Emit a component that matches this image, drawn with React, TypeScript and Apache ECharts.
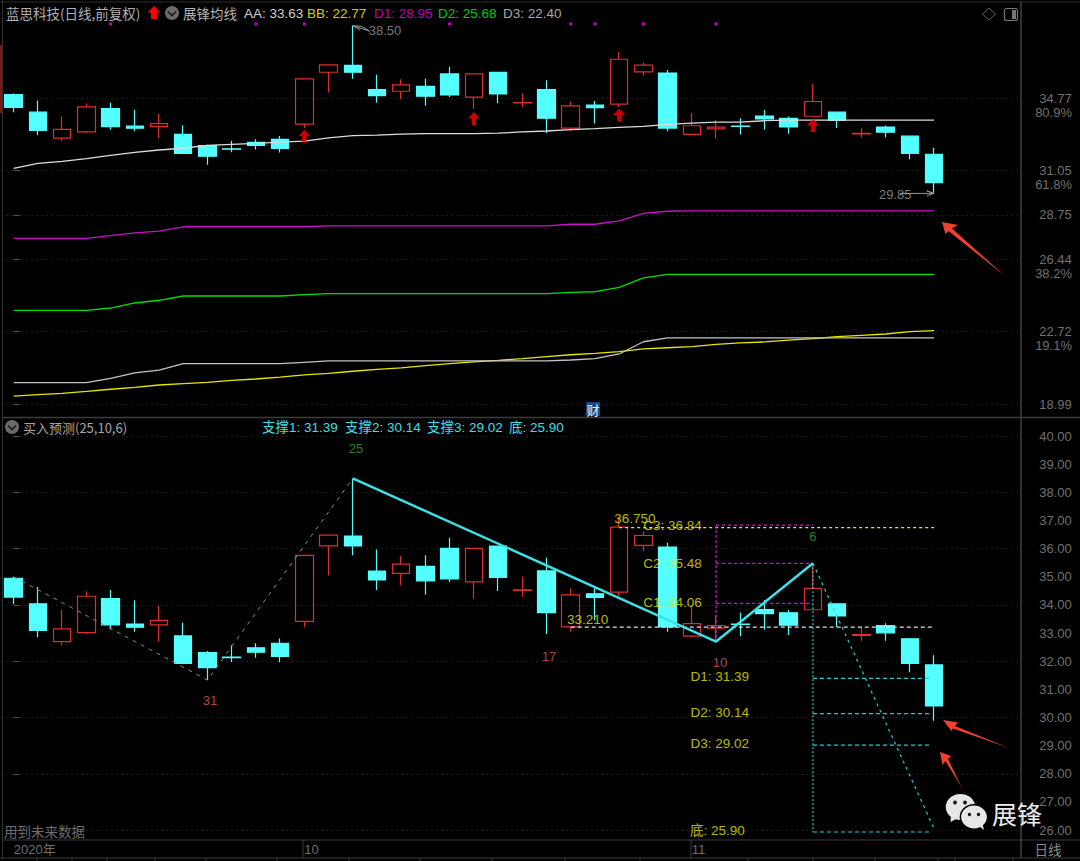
import React, { useEffect, useRef } from "react";
import * as echarts from "echarts";

// ---- axis categories (one per trading slot; three blank slots on the right)
const categories = [
  "2020年","","","","","","","","","","","",
  "10","","","","","","","","","","","","","","","",
  "11","","","","","","","","","","","","","",
];

// ---- candles
const opens = [34.95,34.04,32.70,33.02,34.23,33.32,33.29,32.90,32.31,32.15,32.48,32.64,33.42,36.10,36.45,35.20,35.12,35.37,36.01,34.82,36.09,34.52,35.21,33.22,34.40,34.46,36.12,36.06,32.89,33.18,33.32,33.84,33.72,33.83,34.04,32.92,33.27,32.80,31.87];
const closes = [34.28,33.10,33.15,34.31,33.29,33.21,33.45,31.92,31.77,32.13,32.32,32.17,35.76,36.48,36.10,34.89,35.45,34.86,34.93,36.01,34.98,34.54,33.73,34.36,34.27,36.77,36.47,33.22,33.34,33.27,33.31,33.69,33.28,34.59,33.61,32.95,33.01,31.92,30.41];
const lows = [34.03,32.85,32.57,32.96,33.13,33.05,32.69,31.92,31.33,31.97,32.12,31.96,33.21,35.06,35.77,34.53,34.70,34.37,34.82,34.22,34.50,34.29,32.97,33.05,33.46,34.31,35.92,33.05,32.85,32.69,32.89,33.13,32.93,33.83,33.22,32.73,32.73,31.61,29.88];
const highs = [35.00,34.64,33.82,34.49,34.53,34.17,33.96,33.37,32.36,32.57,32.64,32.81,35.76,36.48,38.50,35.97,35.74,35.77,36.38,36.01,36.09,35.01,35.69,34.59,34.62,37.14,36.60,36.21,34.00,33.64,33.73,34.17,33.82,35.48,34.04,33.24,33.35,32.80,32.21];

// ---- 展锋均线 indicator lines
const aaLine = [31.14,31.40,31.50,31.64,31.81,31.97,32.09,32.18,32.33,32.38,32.43,32.50,32.55,32.71,32.83,32.86,32.91,32.93,32.93,32.93,32.96,33.02,33.07,33.14,33.19,33.26,33.31,33.41,33.48,33.53,33.53,33.60,33.63,33.63,33.63,33.63,33.63,33.63,33.63];
const bbLine = [19.40,19.47,19.54,19.64,19.75,19.85,19.97,20.04,20.11,20.21,20.28,20.38,20.49,20.57,20.68,20.78,20.85,20.97,21.07,21.16,21.24,21.33,21.43,21.53,21.60,21.69,21.83,21.89,21.95,22.07,22.14,22.19,22.28,22.36,22.46,22.53,22.60,22.72,22.77];
const d1Line = [27.53,27.53,27.53,27.53,27.67,27.82,27.91,28.13,28.13,28.13,28.13,28.13,28.13,28.18,28.18,28.18,28.18,28.18,28.18,28.18,28.18,28.18,28.18,28.26,28.26,28.43,28.82,28.93,28.95,28.95,28.95,28.95,28.95,28.95,28.95,28.95,28.95,28.95,28.95];
const d2Line = [23.82,23.82,23.82,23.82,23.94,24.20,24.34,24.56,24.56,24.56,24.56,24.56,24.63,24.68,24.68,24.68,24.68,24.68,24.68,24.68,24.68,24.68,24.68,24.75,24.78,25.00,25.50,25.68,25.68,25.68,25.68,25.68,25.68,25.68,25.68,25.68,25.68,25.68,25.68];
const d3Line = [20.09,20.09,20.09,20.09,20.31,20.60,20.74,21.07,21.07,21.07,21.07,21.07,21.14,21.21,21.21,21.21,21.21,21.21,21.21,21.21,21.21,21.21,21.21,21.26,21.33,21.57,22.20,22.40,22.40,22.40,22.40,22.40,22.40,22.40,22.40,22.40,22.40,22.40,22.40];

// ---- signal marks on the upper panel: [slot, price]
const upArrows = [[12,32.80],[19,33.71],[25,33.89],[33,33.35]];
const dotSlots = [4,10,12,18,23,24,26,29];
const dotPrice = 38.59;
const upperNotes = [["38.50",15.33,38.23],["29.85",36.4,29.77]];
const highPointer = [[14,38.50],[14.7,38.22],[14.35,38.47],[14,38.50],[14.3,38.28]];
const lowPointer = [[36.6,29.85],[38,29.85],[37.7,29.98],[38,29.85],[37.7,29.72]];

// ---- 买入预测 overlay geometry: [slot, price]
const grayZig = [[0,35.00],[8,31.33],[14,38.50]];
const cyanZig = [[14,38.50],[29,32.70],[33,35.48]];
const dropLine = [[33,35.48],[38,26.05]];
const dropStem = [[33,35.48],[33,25.93]];
const supports = [31.39,30.14,29.02,25.93];
const supportEnd = 37.8;
const whiteLevel = [[23,33.21],[38,33.21]];
const yellowLevel = [[25,36.75],[38,36.75]];
const purpleStem = [[29,36.84],[29,32.70]];
const purpleLevels = [36.84,35.48,34.06];

const yellowNotes = [["36.750",25.65,37.06],["C3: 36.84",27.2,36.84],["C2: 35.48",27.2,35.49],["C1: 34.06",27.2,34.10],["33.210",23.7,33.50],["D1: 31.39",29.15,31.44],["D2: 30.14",29.15,30.16],["D3: 29.02",29.15,29.09],["底: 25.90",29.05,25.97]];
const greenNotes = [["25",14.13,39.55],["6",33,36.45]];
const redNotes = [["31",8.1,30.60],["17",22.1,32.18],["10",29.16,31.94]];

// ---- axis ticks
const upperTicks = [34.77,31.05,28.75,26.44,22.72,18.99];
const upperPercents = [["80.9%",112],["61.8%",184],["38.2%",273],["19.1%",345]];
const lowerLabels = [40,39,38,37,36,35,34,33,32,31,30,29,28,27,26];
const lowerTicks = [40,38,36,34,32,30,28,26];
const stripTicks = [37,72,107,155,206,277,349,420,492,565,640,748,813,875,938,955,1013];

const BG = "#000000";
const CYAN = "#54ffff";
const RED = "#dc2e2e";
const LINE = "#3a3a3a";
const NUM_FONT = '"Liberation Sans", Arial, sans-serif';
const CJK_FONT = '"Noto Sans CJK SC", "Noto Sans", sans-serif';
const MIX_FONT = '"Liberation Sans", Arial, "Noto Sans CJK SC", sans-serif';
const SLOT_MIN = -0.5;
const SLOT_MAX = categories.length - 0.5;

function txt(text: string, x: number, y: number, fill: string, size = 13.5, align = "left", font = NUM_FONT) {
  return {
    type: "text", x, y, silent: true, z: 20,
    style: { text, fill, font: `${size}px ${font}`, align, verticalAlign: "middle", textAlign: align, textVerticalAlign: "middle" },
  };
}
function seg(x1: number, y1: number, x2: number, y2: number, stroke = LINE, lineWidth = 1) {
  return { type: "line", silent: true, z: 5, shape: { x1, y1, x2, y2 }, style: { stroke, lineWidth } };
}
function poly(points: number[][], fill: string) {
  return { type: "polygon", silent: true, z: 30, shape: { points }, style: { fill } };
}
function chevronCircle(cx: number, cy: number) {
  return [
    { type: "circle", silent: true, z: 20, shape: { cx, cy, r: 7 }, style: { fill: "#6a6a6a" } },
    { type: "polyline", silent: true, z: 21, shape: { points: [[cx - 4, cy - 1.5], [cx, cy + 2.5], [cx + 4, cy - 1.5]] }, style: { stroke: "#1a1a1a", fill: "none", lineWidth: 1.6 } },
  ];
}

function lineOn(panel: number, data: any[], color: string, width: number, type: any = "solid", name = "", z = 4) {
  return {
    type: "line", name, xAxisIndex: panel === 0 ? 1 : 3, yAxisIndex: panel,
    data, symbol: "none", silent: true, z, animation: false,
    lineStyle: { color, width, type },
  };
}
function notes(panel: number, items: any[], color: string, font = NUM_FONT, size = 13) {
  return {
    type: "scatter", xAxisIndex: panel === 0 ? 1 : 3, yAxisIndex: panel,
    data: items.map((n) => ({ value: [n[1], n[2]], text: n[0] })),
    symbolSize: 0, silent: true, z: 8, clip: false,
    label: {
      show: true, position: "inside", color, fontSize: size, fontFamily: font,
      formatter: (p: any) => p.data.text,
    },
  };
}
function candles(panel: number) {
  return {
    type: "candlestick", xAxisIndex: panel === 0 ? 0 : 2, yAxisIndex: panel,
    data: opens.map((o, i) => [o, closes[i], lows[i], highs[i]]),
    barWidth: 18, silent: true, z: 3,
    itemStyle: { color: "rgba(0,0,0,0)", color0: CYAN, borderColor: RED, borderColor0: CYAN, borderColorDoji: CYAN, borderWidth: 1.2 },
  };
}

function buildOption() {
  const indexed = (arr: number[]) => arr.map((v, i) => [i, v]);
  const hline = (v: number, a: number, b: number) => [[a, v], [b, v]];
  const series: any[] = [
    candles(0),
    lineOn(0, indexed(aaLine), "#dcdcdc", 1.3, "solid", "AA"),
    lineOn(0, indexed(bbLine), "#e6e600", 1.3, "solid", "BB"),
    lineOn(0, indexed(d1Line), "#cc10cc", 1.3, "solid", "D1"),
    lineOn(0, indexed(d2Line), "#00e000", 1.3, "solid", "D2"),
    lineOn(0, indexed(d3Line), "#c4c4c4", 1.3, "solid", "D3"),
    lineOn(0, highPointer, "#9a9a9a", 1),
    lineOn(0, lowPointer, "#9a9a9a", 1),
    {
      type: "scatter", xAxisIndex: 1, yAxisIndex: 0, data: upArrows, silent: true, z: 6,
      symbol: "path://M6 0L12 6.5H8.2V13H3.8V6.5H0Z", symbolSize: [12, 13],
      itemStyle: { color: "#ff0000" },
    },
    {
      type: "scatter", xAxisIndex: 1, yAxisIndex: 0, data: dotSlots.map((s) => [s, dotPrice]), silent: true, z: 6,
      symbol: "rect", symbolSize: 3, itemStyle: { color: "#ff00ff" },
    },
    notes(0, upperNotes, "#9c9c9c"),

    candles(1),
    lineOn(1, grayZig, "#8a8a8a", 1, [4, 5]),
    lineOn(1, cyanZig, "#3fdfe6", 2.5, "solid", "", 6),
    lineOn(1, dropLine, "#22cfcf", 1.2, [3, 4]),
    lineOn(1, dropStem, "#22cfcf", 1.2, [2, 2]),
    lineOn(1, whiteLevel, "#e0e0e0", 1.2, [4, 3]),
    lineOn(1, yellowLevel, "#e6e640", 1.2, [3, 3]),
    lineOn(1, purpleStem, "#c818c8", 1.2, [3, 2]),
    ...purpleLevels.map((v) => lineOn(1, hline(v, 29, 33), "#c818c8", 1.2, [3, 3])),
    ...supports.map((v) => lineOn(1, hline(v, 33, supportEnd), "#22cfcf", 1.2, [4, 3])),
    notes(1, yellowNotes, "#e8e800", MIX_FONT, 13.5),
    notes(1, greenNotes, "#2fa52f"),
    notes(1, redNotes, "#d85a5a"),
  ];

  const graphic: any[] = [
    // frame
    seg(2.5, 0, 2.5, 858, "#303030", 1),
    seg(0, 2, 1080, 2, "#2c2c2c", 1),
    seg(2, 417.5, 1080, 417.5, "#3c3c3c", 1.5),
    seg(2, 840, 1080, 840, "#3c3c3c", 1),
    seg(0, 858, 1080, 858, "#3c3c3c", 1),
    seg(1021, 2, 1021, 858, "#404040", 1.5),
    seg(303, 840, 303, 858, "#3c3c3c", 1),
    seg(691, 840, 691, 858, "#3c3c3c", 1),
    ...stripTicks.map((x) => seg(x, 858, x, 861, "#3c3c3c", 1)),
    { type: "rect", silent: true, z: 6, shape: { x: 0, y: 45, width: 2, height: 68 }, style: { fill: "#7d1717" } },

    // upper header
    txt("蓝思科技(日线,前复权)", 6, 13, "#b0b0b0", 13.5, "left", CJK_FONT),
    poly([[154, 6], [160.5, 12.5], [157, 12.5], [157, 19], [151, 19], [151, 12.5], [147.5, 12.5]], "#ff0000"),
    ...chevronCircle(172, 13),
    txt("展锋均线", 183, 13, "#b0b0b0", 13.5, "left", CJK_FONT),
    txt("AA: 33.63", 244, 13, "#cfcfcf"),
    txt("BB: 22.77", 307, 13, "#d0d000"),
    txt("D1: 28.95", 374, 13, "#c000c0"),
    txt("D2: 25.68", 438, 13, "#00cc00"),
    txt("D3: 22.40", 503, 13, "#a8a8a8"),
    { type: "polygon", silent: true, z: 20, shape: { points: [[989, 8], [995.5, 14], [989, 20], [982.5, 14]] }, style: { stroke: "#666", fill: "none", lineWidth: 1 } },
    { type: "rect", silent: true, z: 20, shape: { x: 1004.5, y: 8.5, width: 13, height: 12, r: 2 }, style: { stroke: "#777", fill: "none", lineWidth: 1.2 } },
    { type: "rect", silent: true, z: 20, shape: { x: 1012, y: 10, width: 4, height: 9 }, style: { fill: "#777" } },
    ...upperPercents.map((p) => txt(p[0] as string, 1072, p[1] as number, "#707070", 13, "right")),

    // 财 badge
    { type: "rect", silent: true, z: 20, shape: { x: 586, y: 402, width: 14, height: 14, r: 1 }, style: { fill: "#154a85" } },
    txt("财", 593, 409, "#e8f0ff", 13, "center", CJK_FONT),

    // lower header
    ...chevronCircle(12, 427),
    txt("买入预测(25,10,6)", 23, 427, "#a8a8a8", 13, "left", CJK_FONT),
    txt("支撑1: 31.39", 262, 427, "#3fdfe6", 13.5, "left", MIX_FONT),
    txt("支撑2: 30.14", 345, 427, "#3fdfe6", 13.5, "left", MIX_FONT),
    txt("支撑3: 29.02", 427, 427, "#3fdfe6", 13.5, "left", MIX_FONT),
    txt("底: 25.90", 509, 427, "#3fdfe6", 13.5, "left", MIX_FONT),
    txt("用到未来数据", 4, 831, "#6e6e6e", 13.5, "left", CJK_FONT),
    txt("日线", 1048, 849, "#8a8a8a", 13.5, "center", CJK_FONT),

    // red hand-drawn arrows
    poly([[942, 222], [958, 225], [952, 228.5], [1005, 276], [948.5, 231], [945.5, 234]], "#f2402f"),
    poly([[943, 720], [958, 722.5], [955, 726], [1009, 748], [953, 728.5], [951.5, 731]], "#f2402f"),
    poly([[940, 752], [951, 756], [948, 759], [962, 788], [945.5, 761], [942.5, 765]], "#f2402f"),

    // watermark
    { type: "ellipse", silent: true, z: 31, shape: { cx: 960.5, cy: 807, rx: 14.8, ry: 13 }, style: { fill: "#e6e6e6" } },
    poly([[951, 816], [950.5, 822], [958, 818]], "#e6e6e6"),
    { type: "circle", silent: true, z: 32, shape: { cx: 955, cy: 802.5, r: 1.9 }, style: { fill: "#111" } },
    { type: "circle", silent: true, z: 32, shape: { cx: 965, cy: 802.5, r: 1.9 }, style: { fill: "#111" } },
    { type: "ellipse", silent: true, z: 33, shape: { cx: 974, cy: 817, rx: 13.6, ry: 12.2 }, style: { fill: "#e6e6e6", stroke: "#000", lineWidth: 1.5 } },
    { type: "polygon", silent: true, z: 33, shape: { points: [[979, 826], [984, 830], [982, 822]] }, style: { fill: "#e6e6e6" } },
    { type: "circle", silent: true, z: 34, shape: { cx: 969.5, cy: 814.5, r: 1.7 }, style: { fill: "#111" } },
    { type: "circle", silent: true, z: 34, shape: { cx: 978.5, cy: 814.5, r: 1.7 }, style: { fill: "#111" } },
    { ...txt("展锋", 992, 813, "#ececec", 25, "left", CJK_FONT), z: 35 },
  ];

  const hiddenCat = { type: "category", data: categories, show: false, axisLine: { show: false }, axisTick: { show: false } };
  const hiddenVal = { type: "value", show: false, min: SLOT_MIN, max: SLOT_MAX, splitLine: { show: false } };
  const dotted = { show: true, lineStyle: { color: "#3a3a3a", type: [1, 4], width: 1 } };

  return {
    animation: false,
    backgroundColor: BG,
    grid: [
      { left: 1.6, top: 3, width: 1017.2, height: 414 },
      { left: 1.6, top: 418, width: 1017.2, height: 422 },
    ],
    xAxis: [
      { ...hiddenCat, gridIndex: 0 },
      { ...hiddenVal, gridIndex: 0 },
      {
        type: "category", data: categories, gridIndex: 1, position: "bottom",
        axisLine: { show: false }, axisTick: { show: false }, splitLine: { show: false },
        axisLabel: {
          show: true, interval: 0, color: "#6e6e6e", fontSize: 13, margin: 3,
          fontFamily: MIX_FONT, align: "left", verticalAlign: "top",
        },
      },
      { ...hiddenVal, gridIndex: 1 },
    ],
    yAxis: [
      {
        type: "value", gridIndex: 0, position: "right", offset: 2,
        min: 18.32, max: 39.67,
        axisLine: { show: false },
        axisTick: { show: true, length: 6, customValues: upperTicks, lineStyle: { color: "#555" } },
        splitLine: dotted,
        axisLabel: {
          show: true, customValues: upperTicks, color: "#707070", fontSize: 13, fontFamily: NUM_FONT,
          align: "right", margin: 51, formatter: (v: number) => v.toFixed(2),
        },
      },
      {
        type: "value", gridIndex: 1, position: "right", offset: 2,
        min: 25.645, max: 40.647,
        axisLine: { show: false },
        axisTick: { show: true, length: 6, customValues: lowerTicks, lineStyle: { color: "#555" } },
        splitLine: dotted,
        axisLabel: {
          show: true, customValues: lowerLabels, color: "#707070", fontSize: 13, fontFamily: NUM_FONT,
          align: "right", margin: 51, formatter: (v: number) => v.toFixed(2),
        },
      },
    ],
    series,
    graphic: { elements: graphic },
  };
}

export default function App() {
  const ref = useRef<HTMLDivElement>(null);
  useEffect(() => {
    document.body.style.margin = "0";
    document.body.style.background = BG;
    const chart = echarts.init(ref.current!, undefined, { renderer: "svg" });
    chart.setOption(buildOption() as any);
    return () => chart.dispose();
  }, []);
  return <div ref={ref} style={{ width: 1080, height: 861 }} />;
}
